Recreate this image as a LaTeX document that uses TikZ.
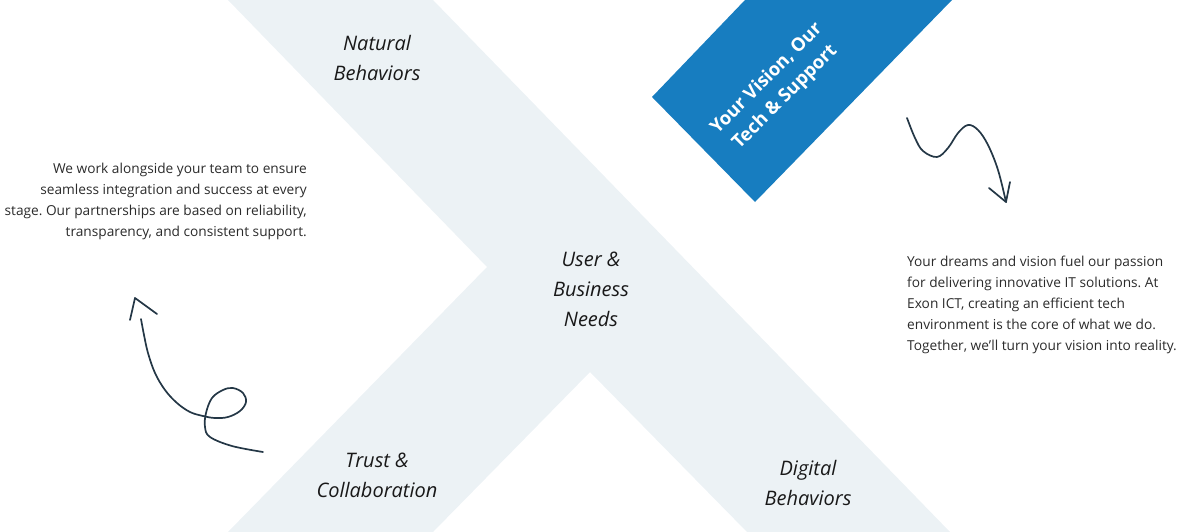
\documentclass[tikz,border=0pt]{standalone}
\usepackage{fontspec}
\setmainfont{Open Sans}
\usepackage{tikz}
\usetikzlibrary{positioning}
\definecolor{bandgray}{RGB}{236, 242, 245}
\definecolor{visionblue}{RGB}{23, 125, 192}
\definecolor{inkdark}{RGB}{36, 55, 70}
\definecolor{copytext}{RGB}{43, 43, 43}
\frenchspacing

\begin{document}
\begin{tikzpicture}[x=1pt, y=-1pt,
    band/.style={fill=bandgray, draw=none},
    tagband/.style={fill=visionblue, draw=none},
    handtext/.style={align=center, inner sep=0pt, text=black!90, font=\fontsize{20}{30}\selectfont\itshape},
    bodycopy/.style={inner sep=0pt, text=copytext, font=\fontsize{13.7}{21}\selectfont},
    tagtext/.style={align=center, inner sep=0pt, text=white, rotate=45, font=\fontsize{18.5}{26}\selectfont\bfseries},
    squiggle/.style={draw=inkdark, line width=1.7pt, line cap=round, line join=round}]

    \useasboundingbox (0,0) rectangle (1180,532);

    % The X band and the blue tag
    \fill[band] (228,0) -- (433,0) -- (950,532) -- (747,532) -- (590,372) -- (433,532) -- (228,532) -- (487,267) -- cycle;
    \fill[tagband] (745,0) -- (952,0) -- (755,202) -- (652,97) -- cycle;
    \node[tagtext] (vision) at (776,88) {Your Vision, Our\\ Tech \& Support};

    % Handwritten labels
    \node[handtext] (natural) at (377,58) {Natural\\ Behaviors};
    \node[handtext] (needs) at (591,289) {User \&\\ Business\\ Needs};
    \node[handtext] (trust) at (377,475) {Trust \&\\ Collaboration};
    \node[handtext] (digital) at (808,483) {Digital\\ Behaviors};

    % Copy texts
    \node[bodycopy, align=right, anchor=east] (teamcopy) at (307,201) {We work alongside your team to ensure\\ seamless integration and success at every\\ stage. Our partnerships are based on reliability,\\ transparency, and consistent support.};
    \node[bodycopy, align=left, anchor=west] (dreamcopy) at (907,305) {Your dreams and vision fuel our passion\\ for delivering innovative IT solutions. At\\ Exon ICT, creating an efficient tech\\ environment is the core of what we do.\\ Together, we’ll turn your vision into reality.};

    % Hand-drawn arrows
    \coordinate (looptail) at (263,452);
    \coordinate (loophead) at (141,319);
    \coordinate (wavetail) at (907,118);
    \coordinate (wavehead) at (1006,202);

    \draw[squiggle] plot[smooth, tension=0.6] coordinates {(looptail) (232,446) (210,437) (205,427) (206,413) (212,398) (223,390) (233,388) (243,393) (246,402) (240,411) (228,417) (215,418) (203,416) (190,412) (177,403) (165,390) (155,373) (148,353) (144,335) (loophead)};
    \draw[squiggle] (130,320) -- (135,298) -- (157,314);

    \draw[squiggle] plot[smooth, tension=0.6] coordinates {(wavetail) (915,138) (923,151) (937,157) (948,148) (958,133) (968,125) (978,130) (988,145) (998,170) (wavehead)};
    \draw[squiggle] (989,188) -- (wavehead) -- (1010,182);
\end{tikzpicture}
\end{document}
